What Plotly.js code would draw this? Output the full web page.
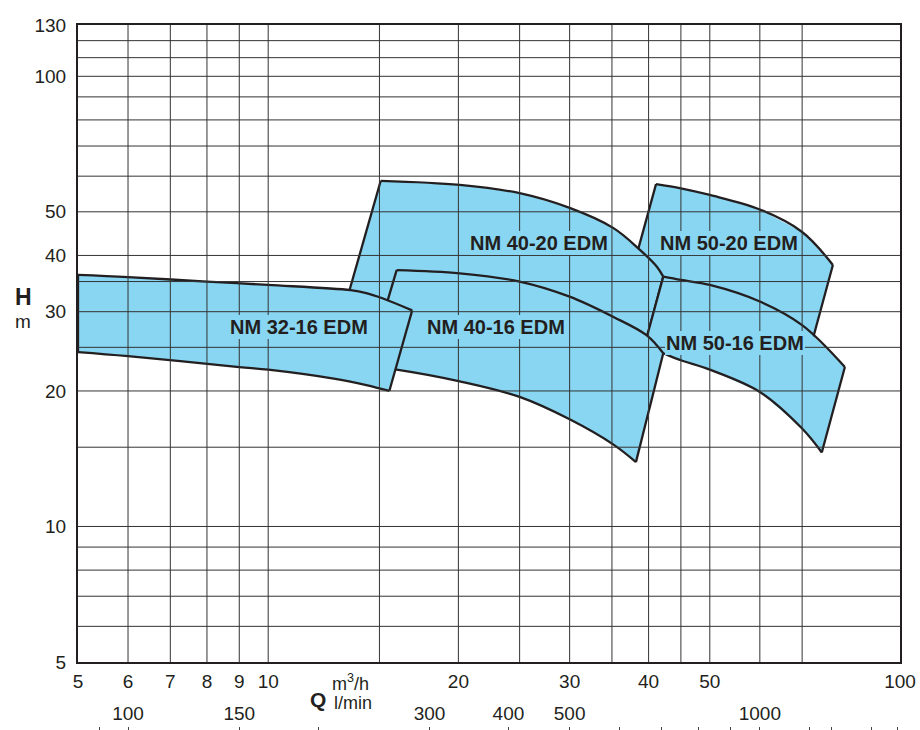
<!DOCTYPE html>
<html><head><meta charset="utf-8">
<script src="https://cdn.plot.ly/plotly-3.0.1.min.js"></script>
<style>html,body{margin:0;padding:0;background:#fff}#chart{width:920px;height:730px}</style>
</head><body><div id="chart"></div>
<script>
// ---- Data: Q in m3/h, H in m (top = max impeller curve, bottom = min impeller curve) ----
const models = ['NM 50-20 EDM', 'NM 40-20 EDM', 'NM 50-16 EDM', 'NM 40-16 EDM', 'NM 32-16 EDM'];

const q_50_20_top = [41.1, 45, 50, 60, 70, 78.3];
const h_50_20_top = [57.6, 56.4, 54.5, 50.6, 45.1, 38.1];
const q_50_20_bot = [36.6, 42.2, 48.3, 60, 70.6];
const h_50_20_bot = [31.8, 31.0, 28.8, 24.7, 22.3];

const q_40_20_top = [15.07, 20.1, 25, 30, 35.2, 38.8, 41.2, 42.2];
const h_40_20_top = [58.6, 57.4, 55.0, 51.0, 46.0, 41.1, 37.8, 35.9];
const q_40_20_bot = [13.24, 16.2, 20.1, 25, 30, 34.75, 38.7];
const h_40_20_bot = [31.0, 30.2, 31.4, 29.9, 28.0, 25.3, 22.8];

const q_50_16_top = [42.2, 45, 50, 60, 70, 81.8];
const h_50_16_top = [35.9, 35.3, 34.4, 31.6, 28.0, 22.6];
const q_50_16_bot = [39.4, 42.2, 45, 50, 60, 70, 75.2];
const h_50_16_bot = [25.2, 24.25, 23.4, 22.3, 19.9, 16.5, 14.6];

const q_40_16_top = [15.97, 20.1, 25, 30, 35.2, 39.7, 42.2];
const h_40_16_top = [37.1, 36.5, 35.0, 32.4, 29.2, 26.6, 24.25];
const q_40_16_bot = [14.4, 15.97, 20.1, 25, 30, 35.2, 38.2];
const h_40_16_bot = [22.7, 22.3, 21.0, 19.4, 17.3, 15.2, 13.9];

const q_32_16_top = [5, 6, 8, 10, 13.5, 14.3, 15.2, 16.9];
const h_32_16_top = [36.2, 35.8, 35.0, 34.4, 33.5, 33.0, 32.1, 30.2];
const q_32_16_bot = [5, 6, 9, 10, 12.7, 14.3, 15.55];
const h_32_16_bot = [24.4, 23.9, 22.6, 22.3, 21.3, 20.6, 20.0];

// label anchor points (Q, H) for each model, same order as models
const labelQ = [53.6, 26.8, 54.8, 22.9, 11.2];
const labelH = [42.7, 42.6, 25.6, 27.8, 27.8];

// ticks
const xTickVals = [5, 6, 7, 8, 9, 10, 20, 30, 40, 50, 100];
const yTickVals = [5, 10, 20, 30, 40, 50, 100, 130];
const xGridVals = [6, 7, 8, 9, 10, 15, 20, 25, 30, 35, 40, 45, 50, 60, 70];
const yGridVals = [6, 7, 8, 9, 10, 15, 20, 25, 30, 35, 40, 50, 60, 70, 80, 90, 100, 110, 120];
const lpmLabelled = [100, 150, 300, 400, 500, 1000];
const lpmMinor = [90, 200, 600, 700, 800, 900, 1200, 1300, 1500, 1650];

// ---- Build ----
const FONT = 'Liberation Sans, Arial, Helvetica, sans-serif';
const INK = '#231F20';
const FILL = '#89D6F2';
const LPM_TO_M3H = 0.06;

const curves = [
  [q_50_20_top, h_50_20_top, q_50_20_bot, h_50_20_bot],
  [q_40_20_top, h_40_20_top, q_40_20_bot, h_40_20_bot],
  [q_50_16_top, h_50_16_top, q_50_16_bot, h_50_16_bot],
  [q_40_16_top, h_40_16_top, q_40_16_bot, h_40_16_bot],
  [q_32_16_top, h_32_16_top, q_32_16_bot, h_32_16_bot]
];

const traces = [];
curves.forEach((c, i) => {
  const [qt, ht, qb, hb] = c;
  const nt = qt.length - 1, nb = qb.length - 1;
  // filled area
  traces.push({
    type: 'scatter', mode: 'lines', name: models[i],
    x: qt.concat(qb.slice().reverse()),
    y: ht.concat(hb.slice().reverse()),
    fill: 'toself', fillcolor: FILL,
    line: {color: FILL, width: 0},
    hoverinfo: 'skip', showlegend: false
  });
  // smooth curves (max and min impeller)
  traces.push({
    type: 'scatter', mode: 'lines', name: models[i] + ' curves',
    x: qt.concat([null], qb), y: ht.concat([null], hb),
    line: {color: INK, width: 2.3, shape: 'spline', smoothing: 1},
    connectgaps: false, hoverinfo: 'skip', showlegend: false
  });
  // straight end edges
  traces.push({
    type: 'scatter', mode: 'lines', name: models[i] + ' edges',
    x: [qt[0], qb[0], null, qt[nt], qb[nb]],
    y: [ht[0], hb[0], null, ht[nt], hb[nb]],
    line: {color: INK, width: 2.3},
    connectgaps: false, hoverinfo: 'skip', showlegend: false
  });
});
// carrier for the l/min axis (keeps the second x axis alive)
traces.push({type: 'scatter', mode: 'lines', x: [], y: [], xaxis: 'x2', yaxis: 'y', showlegend: false, hoverinfo: 'skip'});

const shapes = [];
xGridVals.forEach(v => shapes.push({type: 'line', xref: 'x', yref: 'y domain', x0: v, x1: v, y0: 0, y1: 1,
  layer: 'above', line: {color: '#333333', width: 1}}));
yGridVals.forEach(v => shapes.push({type: 'line', xref: 'x domain', yref: 'y', x0: 0, x1: 1, y0: v, y1: v,
  layer: 'above', line: {color: '#333333', width: 1}}));

const annotations = models.map((m, i) => ({
  xref: 'x', yref: 'y', x: Math.log10(labelQ[i]), y: Math.log10(labelH[i]),
  text: '<b>' + m + '</b>', showarrow: false, xanchor: 'center', yanchor: 'middle',
  font: {family: FONT, size: 20, color: INK}, bgcolor: FILL, borderpad: 1, borderwidth: 0
}));

const W = 920, H = 730, ML = 78, MR = 20, MT = 25, MB = 4;
const plotW = W - ML - MR, paperH = H - MT - MB;
const px = v => (v - ML) / plotW;
const py = v => (H - MB - v) / paperH;

annotations.push(
  {xref: 'paper', yref: 'paper', x: px(23.5), y: py(297), text: '<b>H</b>', showarrow: false,
   xanchor: 'center', yanchor: 'middle', font: {family: FONT, size: 23, color: INK}},
  {xref: 'paper', yref: 'paper', x: px(22.5), y: py(321), text: 'm', showarrow: false,
   xanchor: 'center', yanchor: 'middle', font: {family: FONT, size: 19, color: INK}},
  {xref: 'paper', yref: 'paper', x: px(317.5), y: py(699.5), text: '<b>Q</b>', showarrow: false,
   xanchor: 'center', yanchor: 'middle', font: {family: FONT, size: 21, color: INK}},
  {xref: 'paper', yref: 'paper', x: px(350.5), y: py(682), text: 'm<sup>3</sup>/h', showarrow: false,
   xanchor: 'center', yanchor: 'middle', font: {family: FONT, size: 18, color: INK}},
  {xref: 'paper', yref: 'paper', x: px(352.5), y: py(703), text: 'l/min', showarrow: false,
   xanchor: 'center', yanchor: 'middle', font: {family: FONT, size: 18, color: INK}}
);

const xr = [Math.log10(5), Math.log10(100)];
const layout = {
  width: W, height: H,
  margin: {l: ML, r: MR, t: MT, b: MB},
  paper_bgcolor: '#ffffff', plot_bgcolor: '#ffffff',
  showlegend: false,
  font: {family: FONT, color: INK},
  xaxis: {
    type: 'log', range: xr, tickmode: 'array', tickvals: xTickVals, ticktext: xTickVals.map(String),
    ticks: '', showgrid: false, zeroline: false, showline: true, mirror: true,
    linecolor: INK, linewidth: 2, tickfont: {family: FONT, size: 19, color: INK},
    ticklabelstandoff: 1, anchor: 'y'
  },
  xaxis2: {
    type: 'log', range: xr, overlaying: 'x', anchor: 'free', position: 0, side: 'top',
    tickmode: 'array', tickvals: lpmLabelled.map(v => v * LPM_TO_M3H), ticktext: lpmLabelled.map(String),
    ticks: 'inside', ticklen: 4, tickwidth: 1, tickcolor: '#444444',
    minor: {tickmode: 'array', tickvals: lpmMinor.map(v => v * LPM_TO_M3H), ticks: 'inside',
            ticklen: 4, tickwidth: 1, tickcolor: '#444444', showgrid: false},
    showgrid: false, zeroline: false, showline: false,
    tickfont: {family: FONT, size: 19, color: INK}, ticklabelstandoff: 2
  },
  yaxis: {
    type: 'log', range: [Math.log10(5), Math.log10(130)], domain: [(H - MB - 662) / paperH, 1],
    tickmode: 'array', tickvals: yTickVals, ticktext: yTickVals.map(String),
    ticks: '', showgrid: false, zeroline: false, showline: true, mirror: true,
    linecolor: INK, linewidth: 2, tickfont: {family: FONT, size: 19, color: INK},
    ticklabelstandoff: 6, anchor: 'x'
  },
  shapes: shapes,
  annotations: annotations
};

Plotly.newPlot('chart', traces, layout, {displayModeBar: false, staticPlot: true});
</script></body></html>
